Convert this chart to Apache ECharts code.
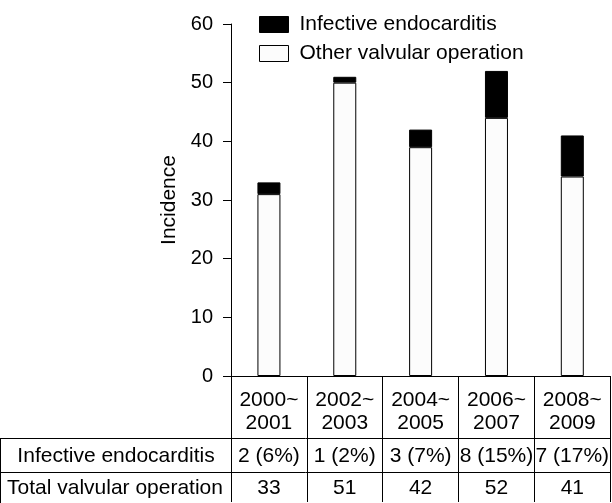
<!DOCTYPE html>
<html>
<head>
<meta charset="utf-8">
<script src="https://cdn.jsdelivr.net/npm/echarts@6/dist/echarts.min.js"></script>
<style>html,body{margin:0;padding:0;background:#fff;}#c{width:612px;height:503px;}</style>
</head>
<body>
<div id="c"></div>
<script>
const categories = ['2000~\n2001', '2002~\n2003', '2004~\n2005', '2006~\n2007', '2008~\n2009'];
const infective = [2, 1, 3, 8, 7];
const other = [31, 50, 39, 44, 34];
const infectiveRow = ['2 (6%)', '1 (2%)', '3 (7%)', '8 (15%)', '7 (17%)'];
const totalRow = ['33', '51', '42', '52', '41'];
const rowHeaders = ['Infective endocarditis', 'Total valvular operation'];
const yTicks = [0, 10, 20, 30, 40, 50, 60];

const FONT = 'Liberation Sans, Arial, sans-serif';
const chart = echarts.init(document.getElementById('c'));
const line = {color: '#000', width: 1};
chart.setOption({
  animation: false,
  backgroundColor: '#fff',
  textStyle: {fontFamily: FONT, color: '#000'},
  grid: {left: 231, right: 1, top: 24, bottom: 127, containLabel: false},
  legend: {
    orient: 'vertical', left: 254, top: 9, itemWidth: 29, itemHeight: 16, itemGap: 8,
    icon: 'rect',
    itemStyle: {borderColor: '#000', borderWidth: 1},
    textStyle: {fontSize: 21, color: '#000', fontFamily: FONT, padding: [0, 0, 0, 6]},
    data: [
      {name: 'Infective endocarditis', icon: 'rect'},
      {name: 'Other valvular operation', icon: 'rect'}
    ]
  },
  xAxis: [
    {type: 'category', data: categories, position: 'bottom',
     axisLine: {show: true, lineStyle: line},
     axisTick: {show: true, length: 126, alignWithLabel: false, lineStyle: line},
     axisLabel: {fontSize: 21, color: '#000', lineHeight: 23, margin: 13, interval: 0, fontFamily: FONT}},
    {type: 'category', data: infectiveRow, position: 'bottom', offset: 62,
     axisLine: {show: false}, axisTick: {show: false},
     axisLabel: {fontSize: 21, color: '#000', lineHeight: 24, margin: 6, interval: 0, fontFamily: FONT}},
    {type: 'category', data: totalRow, position: 'bottom', offset: 94,
     axisLine: {show: false}, axisTick: {show: false},
     axisLabel: {fontSize: 21, color: '#000', lineHeight: 24, margin: 6, interval: 0, fontFamily: FONT}}
  ],
  yAxis: {
    type: 'value', min: yTicks[0], max: yTicks[yTicks.length - 1], interval: 10,
    name: 'Incidence', nameLocation: 'middle', nameGap: 48,
    nameTextStyle: {fontSize: 21, color: '#000', fontFamily: FONT},
    axisLine: {show: true, lineStyle: line},
    axisTick: {show: true, length: 8, lineStyle: line},
    axisLabel: {fontSize: 20, color: '#000', margin: 18, fontFamily: FONT},
    splitLine: {show: false}
  },
  series: [
    {name: 'Other valvular operation', type: 'bar', stack: 'a', data: other, barWidth: 23, xAxisIndex: 0,
     itemStyle: {color: '#fcfcfc', borderColor: '#000', borderWidth: 1, borderRadius: 0}},
    {name: 'Infective endocarditis', type: 'bar', stack: 'a', data: infective, barWidth: 23, xAxisIndex: 0,
     itemStyle: {color: '#000', borderColor: '#000', borderWidth: 1, borderRadius: 0}}
  ],
  graphic: [
    {type: 'line', shape: {x1: 0, y1: 438.5, x2: 611, y2: 438.5}, style: {stroke: '#000', lineWidth: 1}},
    {type: 'line', shape: {x1: 0, y1: 472.5, x2: 611, y2: 472.5}, style: {stroke: '#000', lineWidth: 1}},
    {type: 'line', shape: {x1: 0.5, y1: 438.5, x2: 0.5, y2: 503}, style: {stroke: '#000', lineWidth: 1}},
    {type: 'text', x: 116, y: 456, style: {text: rowHeaders[0], fontSize: 21, fontFamily: FONT, fill: '#000', align: 'center', verticalAlign: 'middle'}},
    {type: 'text', x: 115, y: 488, style: {text: rowHeaders[1], fontSize: 21, fontFamily: FONT, fill: '#000', align: 'center', verticalAlign: 'middle'}}
  ]
});
</script>
</body>
</html>
